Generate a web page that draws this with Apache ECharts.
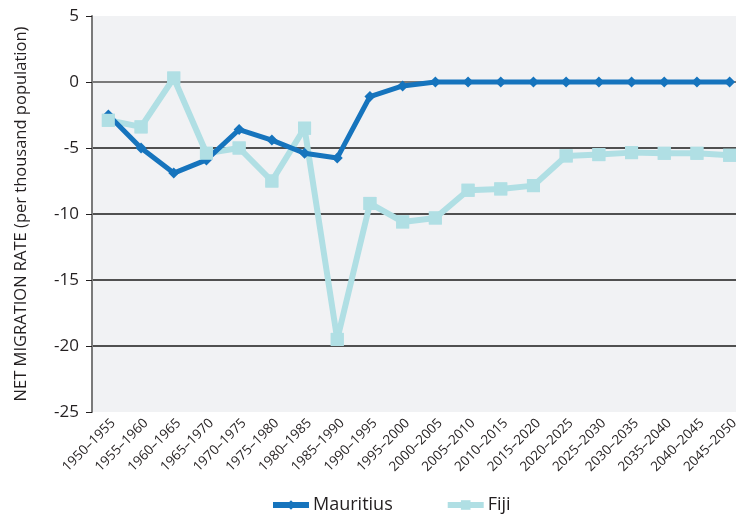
<!DOCTYPE html>
<html>
<head>
<meta charset="utf-8">
<script src="https://cdn.jsdelivr.net/npm/echarts@6/dist/echarts.min.js"></script>
<style>
html,body{margin:0;padding:0;background:#fff;}
#chart{width:736px;height:516px;}
</style>
</head>
<body>
<div id="chart"></div>
<script>
const categories = ['1950–1955','1955–1960','1960–1965','1965–1970','1970–1975','1975–1980','1980–1985','1985–1990','1990–1995','1995–2000','2000–2005','2005–2010','2010–2015','2015–2020','2020–2025','2025–2030','2030–2035','2035–2040','2040–2045','2045–2050'];
const mauritius = [-2.5, -5.0, -6.9, -5.9, -3.6, -4.4, -5.4, -5.75, -1.1, -0.3, 0.0, 0.0, 0.0, 0.0, 0.0, 0.0, 0.0, 0.0, 0.0, 0.0];
const fiji = [-2.9, -3.4, 0.3, -5.4, -5.0, -7.5, -3.5, -19.5, -9.2, -10.6, -10.3, -8.2, -8.1, -7.85, -5.6, -5.5, -5.35, -5.4, -5.4, -5.55];
const yTicks = {min: -25, max: 5, interval: 5};
const yName = 'NET MIGRATION RATE (per thousand population)';

const FONT = '"Open Sans", Lato, sans-serif';
const chart = echarts.init(document.getElementById('chart'), null, {renderer: 'canvas'});
chart.setOption({
  animation: false,
  backgroundColor: '#ffffff',
  grid: {left: 92, top: 16, bottom: 104, width: 654, containLabel: false, outerBoundsMode: 'none', show: true, backgroundColor: '#f1f2f4', borderWidth: 0},
  legend: {
    data: ['Mauritius', 'Fiji'],
    left: 270, bottom: 2, padding: 0,
    itemWidth: 36, itemHeight: 12, itemGap: 52,
    lineStyle: {width: 6},
    textStyle: {fontFamily: FONT, fontSize: 18, color: '#231f20', padding: [0, 0, 0, -1]}
  },
  xAxis: {
    type: 'category',
    data: categories,
    boundaryGap: true,
    axisLine: {show: true, lineStyle: {color: '#7a7a7a', width: 2}},
    axisTick: {show: false},
    axisLabel: {rotate: 45, margin: 4, verticalAlign: 'top', fontFamily: FONT, fontSize: 13.5, color: '#231f20', interval: 0}
  },
  yAxis: {
    type: 'value',
    min: yTicks.min, max: yTicks.max, interval: yTicks.interval,
    name: yName,
    nameLocation: 'middle',
    nameGap: 62,
    nameTextStyle: {fontFamily: FONT, fontSize: 16.5, color: '#231f20'},
    axisLine: {show: true, lineStyle: {color: '#7a7a7a', width: 2}},
    axisTick: {show: true, length: 6, lineStyle: {color: '#231f20', width: 1}},
    axisLabel: {fontFamily: FONT, fontSize: 17, color: '#231f20', margin: 13},
    splitLine: {show: true, lineStyle: {color: ['transparent', '#1a1a1a', '#1a1a1a', '#1a1a1a', '#1a1a1a', '#1a1a1a', 'transparent'], width: 1.5}}
  },
  series: [
    {
      name: 'Fiji', type: 'line', data: fiji, z: 2,
      itemStyle: {color: '#b0dfe4'},
      lineStyle: {color: '#b0dfe4', width: 6},
      symbol: 'rect', symbolSize: 13, showSymbol: true
    },
    {
      name: 'Mauritius', type: 'line', data: mauritius, z: 3,
      itemStyle: {color: '#1674bd'},
      lineStyle: {color: '#1674bd', width: 5},
      symbol: 'diamond', symbolSize: 11, showSymbol: true
    },
    {
      name: 'Fiji', type: 'line', data: fiji, z: 4, silent: true,
      itemStyle: {color: '#b0dfe4'},
      lineStyle: {width: 0, opacity: 0},
      symbol: 'rect', symbolSize: 13, showSymbol: true
    }
  ]
});
</script>
</body>
</html>
